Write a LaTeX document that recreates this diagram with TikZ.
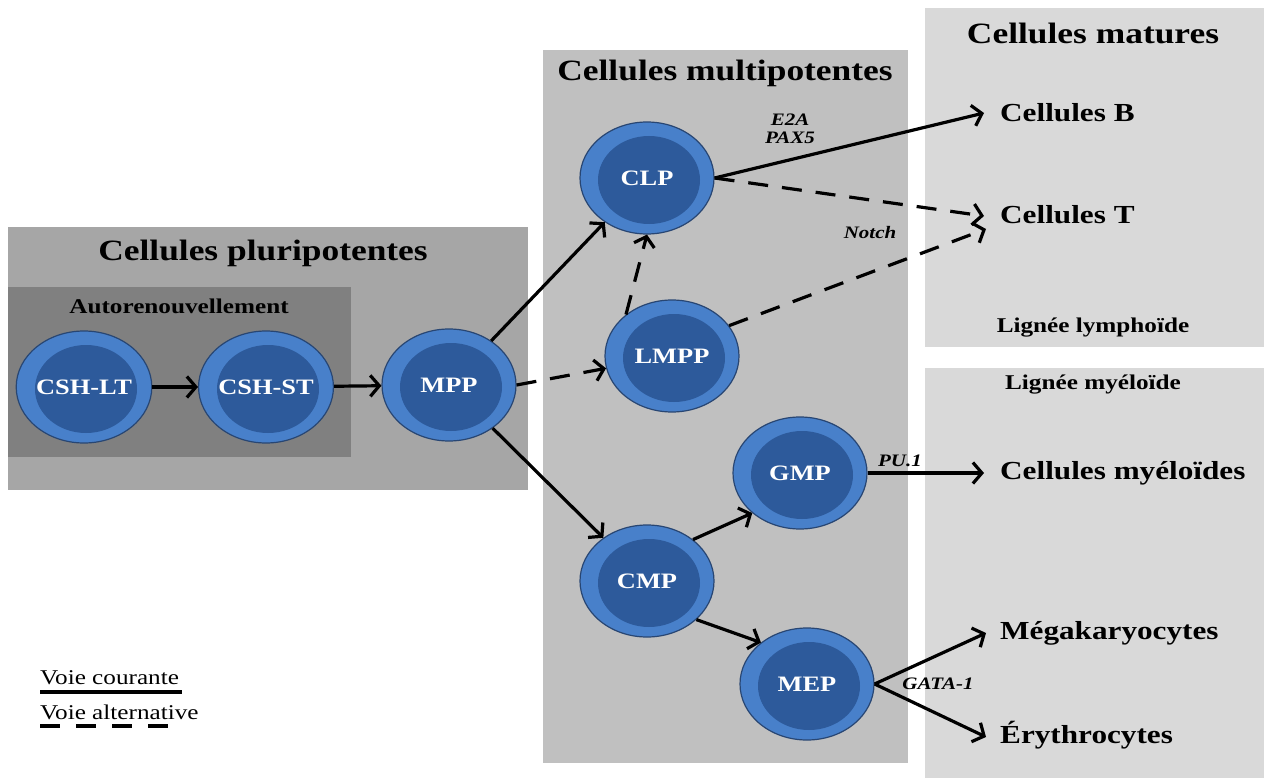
\documentclass[tikz,border=0pt]{standalone}
\usepackage{fontspec}
\setmainfont{Liberation Serif}[FakeStretch=1.2]
\usetikzlibrary{shapes.geometric,arrows.meta}
\definecolor{gpluri}{RGB}{166,166,166}
\definecolor{gauto}{RGB}{128,128,128}
\definecolor{gmulti}{RGB}{192,192,192}
\definecolor{gmature}{RGB}{217,217,217}
\definecolor{ring}{RGB}{72,128,202}
\definecolor{cellin}{RGB}{45,90,155}
\definecolor{cellborder}{RGB}{40,70,115}
\tikzset{
  cell/.style={ellipse, draw=cellborder, line width=1.2pt, fill=ring,
    minimum width=134pt, minimum height=112pt, inner sep=0pt, text=white,
    font=\bfseries\fontsize{22}{22}\selectfont,
    path picture={\fill[cellin] ([xshift=2pt,yshift=-2pt]path picture bounding box.center) ellipse (51pt and 44pt);}},
  title/.style={font=\bfseries\fontsize{29.5}{29.5}\selectfont, inner sep=0pt},
  subtitle/.style={font=\bfseries\fontsize{21}{21}\selectfont, inner sep=0pt},
  mature/.style={font=\bfseries\fontsize{26}{26}\selectfont, anchor=west, inner sep=0pt},
  factor/.style={font=\bfseries\itshape\fontsize{17.5}{17.5}\selectfont, inner sep=0pt},
  legendtext/.style={font=\fontsize{21}{21}\selectfont, anchor=west, inner sep=0pt},
  arr/.style={line width=3.2pt, -{Straight Barb[length=9pt,width=21pt]}},
  alt/.style={dash pattern=on 20pt off 14pt},
}
\begin{document}
\begin{tikzpicture}[x=1pt,y=-1pt]
\useasboundingbox (0,0) rectangle (1268,778);
% boxes
\fill[gpluri] (8,227) rectangle (528,490);
\fill[gauto] (8,287) rectangle (351,457);
\fill[gmulti] (543,50) rectangle (908,763);
\fill[gmature] (925,8) rectangle (1264,347);
\fill[gmature] (925,368) rectangle (1264,778);
% titles
\node[title] (tpluri) at (263,253) {Cellules pluripotentes};
\node[subtitle] (tauto) at (179,306) {Autorenouvellement};
\node[title] (tmulti) at (725,73) {Cellules multipotentes};
\node[title] (tmature) at (1093,33) {Cellules matures};
\node[subtitle] (tlym) at (1093,328) {Lignée lymphoïde};
\node[subtitle] (tmye) at (1093,385) {Lignée myéloïde};
% cells
\node[cell] (lt) at (84,387) {CSH-LT};
\node[cell] (st) at (266,387) {CSH-ST};
\node[cell] (mpp) at (449,385) {MPP};
\node[cell] (clp) at (647,178) {CLP};
\node[cell] (lmpp) at (672,356) {LMPP};
\node[cell] (gmp) at (800,473) {GMP};
\node[cell] (cmp) at (647,581) {CMP};
\node[cell] (mep) at (807,684) {MEP};
% mature cells
\node[mature] (b) at (1000,113) {Cellules B};
\node[mature] (t) at (1000,215) {Cellules T};
\node[mature] (mye) at (1000,473) {Cellules myéloïdes};
\node[mature] (meg) at (1000,633) {Mégakaryocytes};
\node[mature] (ery) at (1000,735) {Érythrocytes};
% factors
\node[factor] (e2a) at (790,120) {E2A};
\node[factor] (pax) at (790,138) {PAX5};
\node[factor] (notch) at (870,233) {Notch};
\node[factor] (pu) at (900,461) {PU.1};
\node[factor] (gata) at (938,684) {GATA-1};
% connectors
\draw[arr] (lt) -- (st);
\draw[arr] (st) -- (mpp);
\draw[arr] (mpp) -- (clp);
\draw[arr,alt] (mpp.east) -- (lmpp);
\draw[arr] (mpp) -- (cmp);
\draw[arr,alt] (lmpp.138) -- (clp.south);
\draw[arr] (clp.east) -- ([xshift=-16pt]b.west);
\draw[arr,alt] (clp.east) -- ([xshift=-16pt,yshift=-1pt]t.west);
\draw[arr,alt] (lmpp.28) -- ([xshift=-14pt,yshift=-14pt]t.west);
\draw[arr] (cmp.42) -- (gmp.220);
\draw[arr] (cmp.322) -- (mep.138);
\draw[arr] (gmp.east) -- ([xshift=-16pt]mye.west);
\draw[arr] (mep.east) -- ([xshift=-14pt]meg.west);
\draw[arr] (mep.east) -- ([xshift=-14pt,yshift=-2pt]ery.west);
% legend
\node[legendtext] (lc) at (40,678) {Voie courante};
\node[legendtext] (la) at (40,712) {Voie alternative};
\coordinate (lc1) at (40,692); \coordinate (lc2) at (182,692);
\coordinate (la1) at (40,726); \coordinate (la2) at (178,726);
\draw[line width=3.2pt] (lc1) -- (lc2);
\draw[line width=3.2pt, dash pattern=on 20pt off 16pt] (la1) -- (la2);
\end{tikzpicture}
\end{document}
